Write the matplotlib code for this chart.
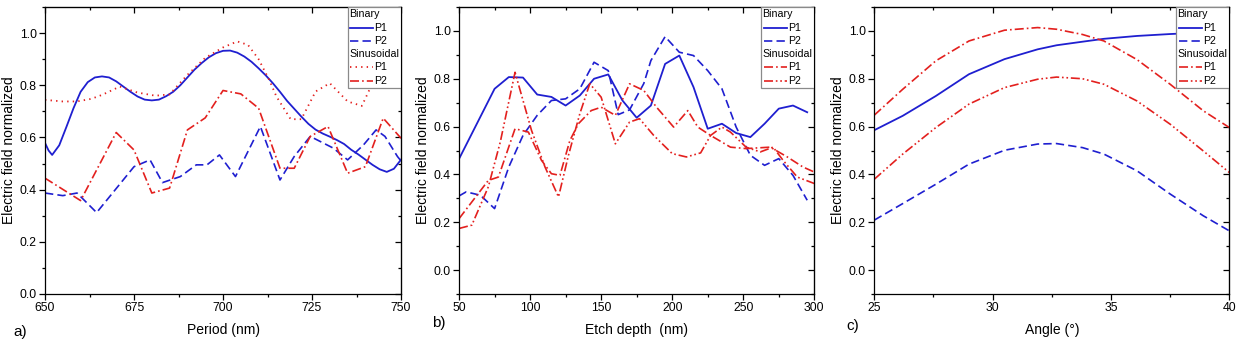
import matplotlib
matplotlib.use('Agg')
import matplotlib.pyplot as plt
from matplotlib.lines import Line2D
from matplotlib.patches import Rectangle
from matplotlib.ticker import MultipleLocator

plt.rcParams['font.family'] = ['Liberation Sans', 'DejaVu Sans']
plt.rcParams['lines.scale_dashes'] = False

BLUE = '#1f1fd0'
RED = '#e3201e'

# ---------------- a) period sweep ----------------
a_bin_p1_x = [650, 651, 652, 654, 656, 658, 660, 662, 664, 666, 668, 670, 672, 674, 676, 678,
              680, 682, 684, 686, 688, 690, 692, 694, 696, 698, 700, 702, 704, 706, 708, 710,
              712, 714, 716, 718, 720, 722, 724, 726, 728, 730, 732, 734, 736, 738, 740, 742,
              744, 746, 748, 750]
a_bin_p1_y = [0.579, 0.55, 0.533, 0.57, 0.64, 0.712, 0.775, 0.812, 0.83, 0.834, 0.83, 0.815,
              0.795, 0.775, 0.757, 0.745, 0.742, 0.745, 0.758, 0.775, 0.80, 0.83, 0.86, 0.885,
              0.907, 0.923, 0.932, 0.933, 0.925, 0.91, 0.89, 0.865, 0.838, 0.808, 0.775, 0.74,
              0.71, 0.68, 0.652, 0.63, 0.615, 0.603, 0.59, 0.575, 0.553, 0.535, 0.515, 0.495,
              0.478, 0.468, 0.48, 0.515]
a_bin_p2_x = [650, 655, 659, 664.5, 675, 679.5, 683, 688, 692.5, 695.5, 699, 703.5, 710.5, 716,
              720, 724.5, 731, 735, 739.5, 743, 745.5, 749, 750]
a_bin_p2_y = [0.387, 0.377, 0.387, 0.312, 0.488, 0.514, 0.427, 0.45, 0.495, 0.495, 0.533, 0.45,
              0.642, 0.437, 0.527, 0.604, 0.559, 0.514, 0.572, 0.629, 0.604, 0.527, 0.51]
a_sin_p1_x = [650, 655, 659, 663, 666, 671, 676, 681, 685, 690, 695, 700, 704, 707, 710, 713,
              715, 719, 722, 726, 730, 735, 739, 742, 745, 750]
a_sin_p1_y = [0.744, 0.738, 0.738, 0.748, 0.763, 0.795, 0.772, 0.76, 0.765, 0.84, 0.905, 0.945,
              0.968, 0.955, 0.90, 0.82, 0.757, 0.67, 0.67, 0.776, 0.808, 0.738, 0.721, 0.808,
              0.88, 0.86]
a_sin_p2_x = [650, 660, 670, 675, 680, 685, 690, 695, 700, 705, 710, 716, 720, 724.5, 729.5,
              735, 740, 745, 750]
a_sin_p2_y = [0.444, 0.358, 0.619, 0.552, 0.387, 0.406, 0.629, 0.675, 0.78, 0.767, 0.712, 0.482,
              0.482, 0.604, 0.642, 0.463, 0.488, 0.674, 0.597]

# ---------------- b) etch depth sweep ----------------
b_bin_p1_x = [50, 75, 85, 95, 105, 115, 125, 135, 145, 155, 165, 175, 185, 195, 205, 215, 225,
              235, 245, 255, 265, 275, 285, 295]
b_bin_p1_y = [0.465, 0.758, 0.807, 0.805, 0.734, 0.724, 0.688, 0.73, 0.80, 0.818, 0.709, 0.637,
              0.688, 0.862, 0.897, 0.765, 0.591, 0.612, 0.573, 0.556, 0.612, 0.675, 0.688, 0.66]
b_bin_p2_x = [50, 55, 65, 75, 85, 95, 105, 115, 125, 135, 145, 155, 162, 170, 180, 185, 195,
              205, 215, 225, 235, 245, 255, 265, 275, 285, 295]
b_bin_p2_y = [0.31, 0.327, 0.313, 0.257, 0.431, 0.563, 0.647, 0.709, 0.716, 0.758, 0.869, 0.834,
              0.65, 0.67, 0.78, 0.876, 0.976, 0.911, 0.897, 0.834, 0.758, 0.598, 0.48, 0.438,
              0.466, 0.396, 0.292]
b_sin_p1_x = [50, 70.6, 77.7, 89.4, 98.8, 108, 115, 121, 128, 134, 143, 150, 160, 170, 180,
              189, 201, 211, 218, 227, 241, 252, 269, 281, 292, 300]
b_sin_p1_y = [0.215, 0.375, 0.389, 0.591, 0.577, 0.459, 0.403, 0.396, 0.542, 0.612, 0.667,
              0.681, 0.647, 0.779, 0.751, 0.681, 0.598, 0.667, 0.598, 0.563, 0.514, 0.508, 0.514,
              0.473, 0.431, 0.41]
b_sin_p2_x = [50, 59, 70.6, 79, 89.4, 101, 110.5, 120, 127, 135, 142, 150, 160, 170, 177, 187,
              200, 210, 220, 227, 235, 241, 252, 262, 271, 278, 288, 300]
b_sin_p2_y = [0.174, 0.188, 0.348, 0.535, 0.827, 0.584, 0.431, 0.306, 0.48, 0.654, 0.779,
              0.723, 0.528, 0.619, 0.633, 0.563, 0.487, 0.473, 0.49, 0.563, 0.598, 0.577, 0.514,
              0.494, 0.514, 0.459, 0.389, 0.362]

# ---------------- c) angle sweep ----------------
c_x = [25, 26.2, 27.6, 29.0, 30.5, 31.9, 32.7, 33.8, 34.7, 36.1, 37.5, 38.9, 40]
c_bin_p1 = [0.585, 0.645, 0.728, 0.819, 0.882, 0.923, 0.94, 0.955, 0.967, 0.979, 0.987, 0.993, 0.997]
c_bin_p2 = [0.209, 0.278, 0.359, 0.443, 0.501, 0.527, 0.529, 0.512, 0.485, 0.415, 0.318, 0.227, 0.164]
c_sin_p1 = [0.648, 0.756, 0.875, 0.958, 1.003, 1.014, 1.007, 0.985, 0.958, 0.88, 0.777, 0.666, 0.596]
c_sin_p2 = [0.38, 0.485, 0.596, 0.694, 0.763, 0.798, 0.807, 0.80, 0.777, 0.707, 0.61, 0.498, 0.408]

# line styles (dash patterns in points)
SOLID = dict(color=BLUE, lw=1.3, ls='-')
DASH = dict(color=BLUE, lw=1.2, ls=(0, (6, 3)))
DOT = dict(color=RED, lw=1.3, ls=(0, (1, 3)))
DASHDOT = dict(color=RED, lw=1.2, ls=(0, (6.5, 2.2, 1.2, 2.2)))
DASHDOTDOT = dict(color=RED, lw=1.2, ls=(0, (6.5, 2, 1.2, 2, 1.2, 2)))


def style_axes(ax, xlim, ylim, xmaj, xmin, xlabel):
    ax.set_xlim(*xlim)
    ax.set_ylim(*ylim)
    ax.xaxis.set_major_locator(MultipleLocator(xmaj))
    ax.xaxis.set_minor_locator(MultipleLocator(xmin))
    ax.yaxis.set_major_locator(MultipleLocator(0.2))
    ax.yaxis.set_minor_locator(MultipleLocator(0.1))
    ax.tick_params(which='both', direction='out', labelsize=8.8, width=0.9, pad=2)
    ax.tick_params(which='major', length=4)
    ax.tick_params(which='minor', length=2.5)
    # mirrored ticks pointing inward (Origin style)
    secx = ax.secondary_xaxis('top')
    secx.xaxis.set_major_locator(MultipleLocator(xmaj))
    secx.xaxis.set_minor_locator(MultipleLocator(xmin))
    secx.tick_params(which='both', direction='in', labeltop=False, width=0.9)
    secx.tick_params(which='major', length=4)
    secx.tick_params(which='minor', length=2.5)
    secy = ax.secondary_yaxis('right')
    secy.yaxis.set_major_locator(MultipleLocator(0.2))
    secy.yaxis.set_minor_locator(MultipleLocator(0.1))
    secy.tick_params(which='both', direction='in', labelright=False, width=0.9)
    secy.tick_params(which='major', length=4)
    secy.tick_params(which='minor', length=2.5)
    for sp in ax.spines.values():
        sp.set_linewidth(0.9)
    ax.set_xlabel(xlabel, fontsize=10)
    ax.set_ylabel('Electric field normalized', fontsize=10)
    ax.xaxis.set_label_coords(0.5, -0.1)
    ax.yaxis.set_label_coords(-0.082, 0.5)


def draw_legend(ax, p1_style, p2_style):
    # legend box glued to the upper right corner, headers without line samples
    ax.add_patch(Rectangle((0.851, 0.717), 0.149, 0.283, transform=ax.transAxes,
                           facecolor='white', edgecolor='#8a8a8a', lw=0.9, zorder=5))
    rows = [0.9746, 0.928, 0.8815, 0.836, 0.79, 0.743]
    entries = [('Binary', None), ('P1', SOLID), ('P2', DASH),
               ('Sinusoidal', None), ('P1', p1_style), ('P2', p2_style)]
    for y, (label, st) in zip(rows, entries):
        if st is None:
            ax.text(0.854, y, label, transform=ax.transAxes, fontsize=7.7,
                    va='center', ha='left', zorder=6)
        else:
            ax.add_line(Line2D([0.857, 0.922], [y, y], transform=ax.transAxes,
                               zorder=6, **st))
            ax.text(0.925, y, label, transform=ax.transAxes, fontsize=7.7,
                    va='center', ha='left', zorder=6)


fig = plt.figure(figsize=(12.4, 3.4), dpi=100)
ax_a = fig.add_axes([0.0363, 0.1353, 0.2871, 0.8441])
ax_b = fig.add_axes([0.3702, 0.1353, 0.2865, 0.8441])
ax_c = fig.add_axes([0.7051, 0.1353, 0.2863, 0.8441])

# a)
ax_a.plot(a_bin_p1_x, a_bin_p1_y, **SOLID)
ax_a.plot(a_bin_p2_x, a_bin_p2_y, **DASH)
ax_a.plot(a_sin_p1_x, a_sin_p1_y, **DOT)
ax_a.plot(a_sin_p2_x, a_sin_p2_y, **DASHDOT)
style_axes(ax_a, (650, 750), (0, 1.1), 25, 12.5, 'Period (nm)')
draw_legend(ax_a, DOT, DASHDOT)

# b)
ax_b.plot(b_bin_p1_x, b_bin_p1_y, **SOLID)
ax_b.plot(b_bin_p2_x, b_bin_p2_y, **DASH)
ax_b.plot(b_sin_p1_x, b_sin_p1_y, **DASHDOT)
ax_b.plot(b_sin_p2_x, b_sin_p2_y, **DASHDOTDOT)
style_axes(ax_b, (50, 300), (-0.1, 1.1), 50, 25, 'Etch depth  (nm)')
draw_legend(ax_b, DASHDOT, DASHDOTDOT)

# c)
ax_c.plot(c_x, c_bin_p1, **SOLID)
ax_c.plot(c_x, c_bin_p2, **DASH)
ax_c.plot(c_x, c_sin_p1, **DASHDOT)
ax_c.plot(c_x, c_sin_p2, **DASHDOTDOT)
style_axes(ax_c, (25, 40), (-0.1, 1.1), 5, 2.5, 'Angle (°)')
draw_legend(ax_c, DASHDOT, DASHDOTDOT)

# panel letters
fig.text(13 / 1240, 1 - 332 / 340, 'a)', fontsize=11, va='center', ha='left')
fig.text(432 / 1240, 1 - 323 / 340, 'b)', fontsize=11, va='center', ha='left')
fig.text(846 / 1240, 1 - 326 / 340, 'c)', fontsize=11, va='center', ha='left')

fig.savefig('out.png', dpi=100, facecolor='white')
